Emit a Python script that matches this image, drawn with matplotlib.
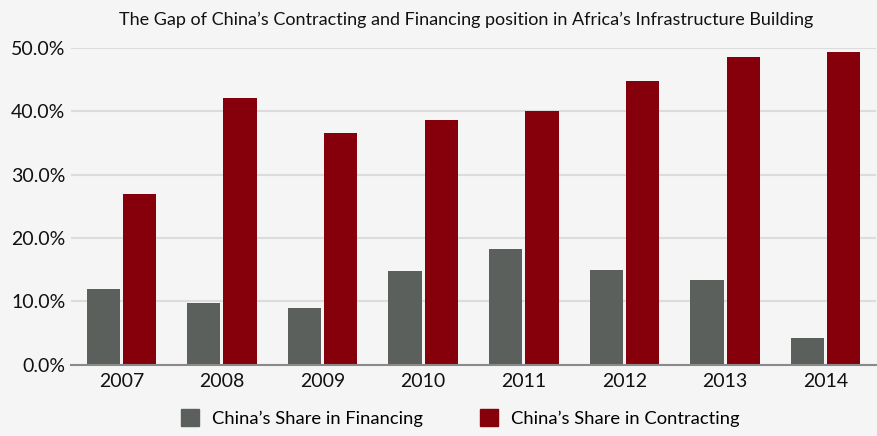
import matplotlib.pyplot as plt
import numpy as np
from matplotlib.patches import Patch

years = ['2007', '2008', '2009', '2010', '2011', '2012', '2013', '2014']
financing = [11.9, 9.7, 8.9, 14.7, 18.3, 15.0, 13.3, 4.2]
contracting = [26.9, 42.1, 36.6, 38.6, 40.1, 44.8, 48.5, 49.4]
yticks = [0, 10, 20, 30, 40, 50]

plt.rcParams['font.family'] = ['Lato', 'DejaVu Sans']

bg = '#f5f5f5'
gray = '#5c605d'
red = '#86000b'

fig = plt.figure(figsize=(8.78, 4.36), dpi=100, facecolor=bg)
ax = fig.add_axes([71 / 878, 1 - 364.5 / 436, 805 / 878, (364.5 - 48) / 436], facecolor=bg)

x = np.arange(len(years))
w = 0.33
ax.bar(x - w / 2 - 0.015, financing, w, color=gray, zorder=3, label='China\u2019s Share in Financing')
ax.bar(x + w / 2 + 0.015, contracting, w, color=red, zorder=3, label='China\u2019s Share in Contracting')

ax.set_xlim(-0.5, len(years) - 0.5)
ax.set_ylim(0, 50)
ax.set_yticks(yticks)
ax.set_yticklabels([f'{v:.1f}%' for v in yticks], fontsize=14, color='#111111')
ax.set_xticks(x)
ax.set_xticklabels(years, fontsize=14, color='#111111')
ax.tick_params(axis='both', length=0, pad=6)
ax.tick_params(axis='y', pad=4)
ax.grid(axis='y', color='#dcdcdc', linewidth=1.5, zorder=0)
for s in ['top', 'right', 'left']:
    ax.spines[s].set_visible(False)
ax.spines['bottom'].set_color('#8a8a8a')
ax.spines['bottom'].set_linewidth(1.5)
ax.spines['bottom'].set_zorder(4)

fig.text(466 / 878, 1 - 20 / 436, 'The Gap of China\u2019s Contracting and Financing position in Africa\u2019s Infrastructure Building',
         ha='center', va='center', fontsize=13, color='#111111')

handles = [Patch(color=gray), Patch(color=red)]
fig.legend(handles, ['China\u2019s Share in Financing', 'China\u2019s Share in Contracting'],
           loc='center', bbox_to_anchor=(460 / 878, 1 - 418 / 436), ncol=2, frameon=False,
           fontsize=13.2, handlelength=1.0, handleheight=1.0, columnspacing=3.1, handletextpad=0.7)

fig.savefig('out.png', dpi=100, facecolor=bg)
